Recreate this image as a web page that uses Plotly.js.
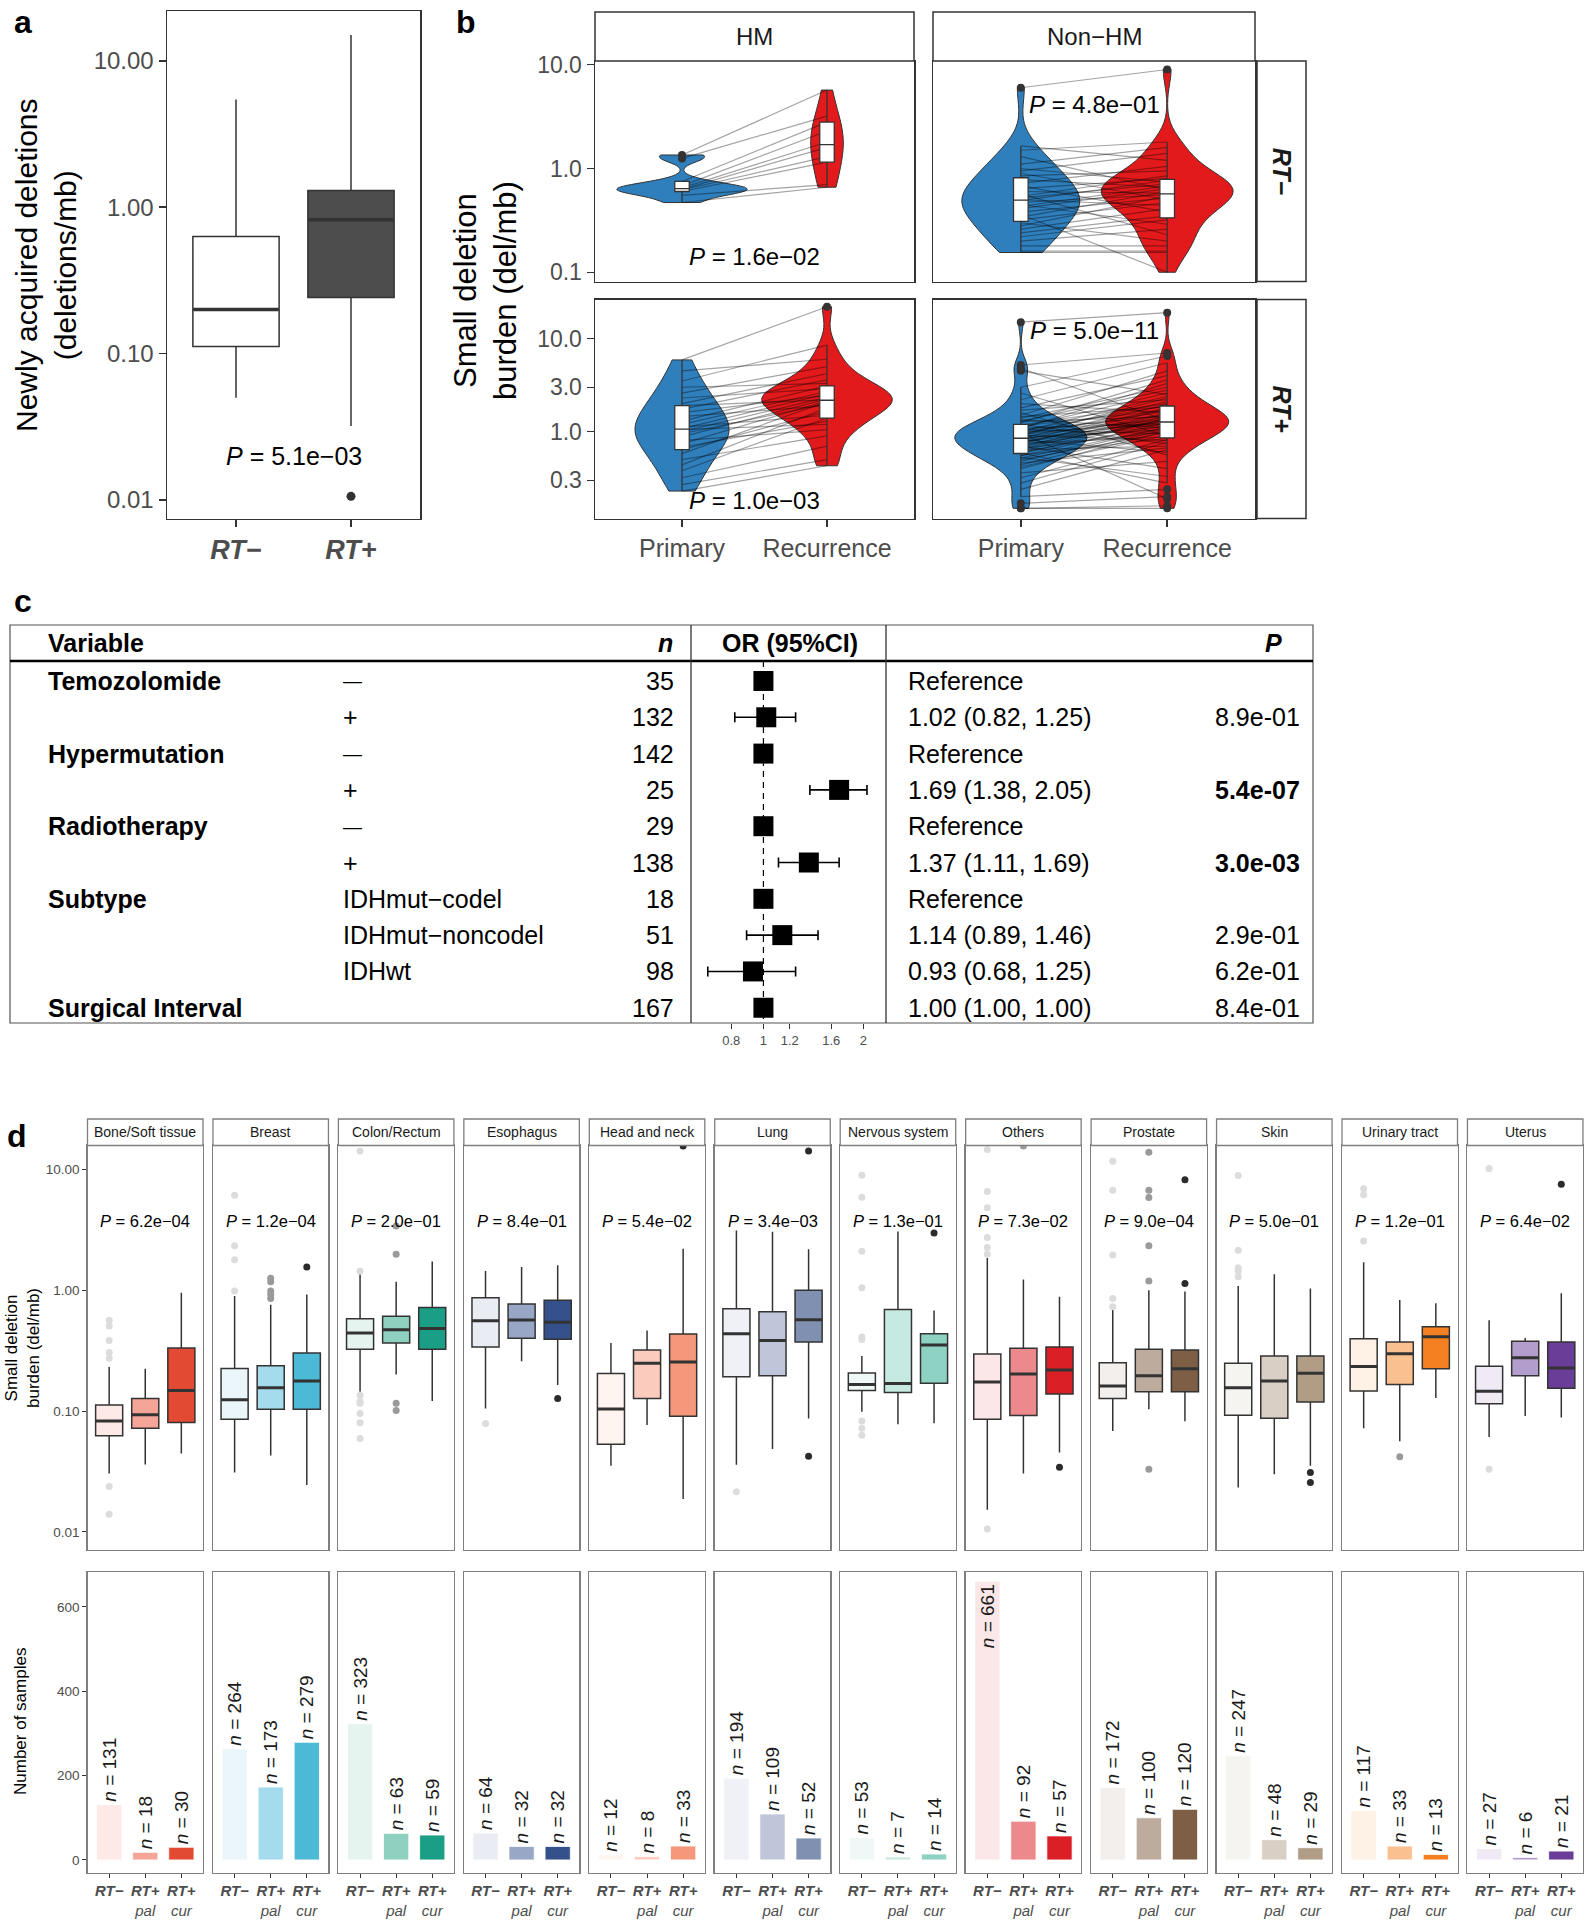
<!DOCTYPE html>
<html><head><meta charset="utf-8">
<script src="https://cdn.plot.ly/plotly-3.0.1.min.js"></script>
<style>body{margin:0;background:#fff}</style>
</head><body><div id="chart" style="width:1588px;height:1920px"></div>
<script>
// ================= DATA =================
// ---- Panel a: newly acquired deletions (box summary) ----
const aGroups = ['RT−', 'RT+'];
const aQ1 = [0.112, 0.242];
const aMedian = [0.20, 0.82];
const aQ3 = [0.63, 1.30];
const aLowerWhisker = [0.050, 0.032];
const aUpperWhisker = [5.45, 15.0];
const aOutliers = [[], [0.0106]];
const aPvalue = '5.1e−03';
const aTicks = [0.01, 0.1, 1, 10];

// ---- Panel b: paired small deletion burden (del/mb) ----
const bConditions = ['Primary', 'Recurrence'];
const bColumns = ['HM', 'Non−HM'];
const bRows = ['RT−', 'RT+'];
const hmNegPrimary    = [1.35, 1.25, 0.75, 0.68, 0.65, 0.63, 0.62, 0.60, 0.55, 0.47];
const hmNegRecurrence = [5.7, 3.2, 2.8, 2.3, 1.8, 1.6, 1.3, 1.15, 0.70, 0.66];
const nonhmNegPrimary = [6.0, 1.65, 1.5, 1.3, 1.1, 1.0, 0.95, 0.9, 0.85, 0.78, 0.72, 0.68, 0.64, 0.6, 0.57, 0.54, 0.52, 0.5, 0.49, 0.47, 0.45, 0.43, 0.41, 0.38, 0.36, 0.34, 0.32, 0.3, 0.28, 0.26, 0.24, 0.22, 0.2, 0.18, 0.16, 0.155];
const nonhmNegRecurrence = [9.0, 1.2, 1.8, 0.62, 1.6, 0.74, 1.4, 0.5, 0.95, 0.66, 1.05, 0.38, 0.8, 0.58, 0.23, 0.85, 0.71, 0.44, 0.77, 0.56, 0.29, 0.68, 0.64, 0.52, 0.1, 0.6, 0.47, 0.2, 0.54, 0.41, 0.35, 0.32, 0.26, 0.18, 0.16, 0.155];
const hmPosPrimary = [5.9, 4.5, 3.5, 3.0, 2.6, 2.3, 2.0, 1.9, 1.75, 1.6, 1.45, 1.3, 1.2, 1.12, 1.08, 1.05, 1.0, 0.95, 0.88, 0.8, 0.74, 0.68, 0.64, 0.58, 0.5, 0.44, 0.38, 0.32, 0.27, 0.23];
const hmPosRecurrence = [22, 6.0, 8.5, 3.3, 5.0, 2.9, 4.2, 2.2, 3.6, 2.45, 1.9, 3.1, 2.7, 1.5, 2.55, 1.2, 2.35, 2.0, 2.25, 1.05, 2.15, 1.3, 1.65, 2.1, 0.9, 1.8, 1.4, 0.7, 0.5, 0.43];
const nonhmPosPrimary = [15, 5.2, 4.8, 4.5, 3.0, 2.6, 2.2, 2.0, 1.8, 1.7, 1.6, 1.5, 1.45, 1.4, 1.35, 1.3, 1.28, 1.25, 1.2, 1.18, 1.15, 1.12, 1.1, 1.08, 1.05, 1.03, 1.02, 1.0, 0.98, 0.97, 0.96, 0.94, 0.93, 0.92, 0.9, 0.88, 0.86, 0.85, 0.84, 0.82, 0.8, 0.79, 0.78, 0.76, 0.75, 0.74, 0.72, 0.7, 0.69, 0.68, 0.66, 0.65, 0.64, 0.62, 0.6, 0.59, 0.58, 0.56, 0.55, 0.53, 0.52, 0.5, 0.48, 0.46, 0.44, 0.42, 0.4, 0.36, 0.32, 0.28, 0.24, 0.2, 0.17, 0.15, 0.15];
const nonhmPosRecurrence = [19, 7.0, 1.3, 2.5, 6.5, 0.9, 5.5, 1.6, 4.0, 2.2, 0.56, 4.5, 1.85, 3.0, 1.1, 2.8, 1.45, 3.6, 0.74, 2.0, 1.7, 2.6, 1.22, 3.3, 0.95, 1.9, 1.5, 2.4, 1.2, 0.19, 1.65, 2.1, 1.36, 0.8, 2.3, 1.42, 1.05, 1.95, 1.27, 0.6, 1.8, 1.33, 1.15, 1.58, 0.88, 1.75, 1.24, 0.4, 1.55, 1.32, 1.0, 1.48, 0.7, 1.4, 1.17, 0.28, 1.38, 0.85, 1.25, 0.33, 1.13, 0.98, 1.12, 0.67, 1.07, 0.92, 1.02, 0.48, 0.82, 0.77, 0.64, 0.24, 0.2, 0.16, 0.15];
const bPvalues = ['1.6e−02', '4.8e−01', '1.0e−03', '5.0e−11'];
const bTopTicks = [0.1, 1, 10];
const bTopTickLabels = ['0.1', '1.0', '10.0'];
const bBottomTicks = [0.3, 1, 3, 10];
const bBottomTickLabels = ['0.3', '1.0', '3.0', '10.0'];

// ---- Panel c: regression table ----
const cVariables = ['Temozolomide', '', 'Hypermutation', '', 'Radiotherapy', '', 'Subtype', '', '', 'Surgical Interval'];
const cLevels = ['—', '+', '—', '+', '—', '+', 'IDHmut−codel', 'IDHmut−noncodel', 'IDHwt', ''];
const cN = [35, 132, 142, 25, 29, 138, 18, 51, 98, 167];
const cOR = [1, 1.02, 1, 1.69, 1, 1.37, 1, 1.14, 0.93, 1.00];
const cLow = [null, 0.82, null, 1.38, null, 1.11, null, 0.89, 0.68, 1.00];
const cHigh = [null, 1.25, null, 2.05, null, 1.69, null, 1.46, 1.25, 1.00];
const cP = [null, 0.89, null, 5.4e-7, null, 3.0e-3, null, 0.29, 0.62, 0.84];
const cTicks = [0.8, 1, 1.2, 1.6, 2];

// ---- Panel d: pan-cancer ----
const dTissues = ['Bone/Soft tissue', 'Breast', 'Colon/Rectum', 'Esophagus', 'Head and neck', 'Lung', 'Nervous system', 'Others', 'Prostate', 'Skin', 'Urinary tract', 'Uterus'];
const dPvalues = ['6.2e−04', '1.2e−04', '2.0e−01', '8.4e−01', '5.4e−02', '3.4e−03', '1.3e−01', '7.3e−02', '9.0e−04', '5.0e−01', '1.2e−01', '6.4e−02'];
const dGroupLabels = ['<b><i>RT−</i></b>', '<b><i>RT+</i></b><br><i>pal</i>', '<b><i>RT+</i></b><br><i>cur</i>'];
const dNegQ1  = [0.0623, 0.0855, 0.324, 0.338, 0.0532, 0.192, 0.1475, 0.0855, 0.127, 0.0923, 0.1465, 0.115];
const dNegMed = [0.0828, 0.124, 0.442, 0.558, 0.104, 0.436, 0.166, 0.174, 0.161, 0.156, 0.233, 0.146];
const dNegQ3  = [0.112, 0.225, 0.58, 0.865, 0.204, 0.701, 0.206, 0.296, 0.251, 0.248, 0.396, 0.234];
const dNegLo  = [0.0304, 0.031, 0.144, 0.105, 0.0352, 0.0359, 0.0984, 0.0153, 0.0685, 0.0233, 0.072, 0.061];
const dNegHi  = [0.231, 0.892, 1.38, 1.44, 0.365, 3.11, 0.285, 1.84, 0.684, 1.08, 1.70, 0.562];
const dNegOut = [[0.562, 0.505, 0.382, 0.304, 0.273, 0.0238, 0.014], [6.09, 2.32, 1.78, 0.98], [14.1, 1.43, 0.135, 0.12, 0.116, 0.0952, 0.080, 0.0592], [0.0787], [], [0.0215], [8.9, 5.86, 2.09, 1.045, 0.409, 0.39, 0.0828, 0.072, 0.063], [14.5, 6.53, 4.79, 2.72, 2.25, 1.98, 0.0106], [11.6, 6.7, 1.95, 0.853, 0.728], [8.85, 2.13, 1.53, 1.44, 1.29], [6.87, 6.13, 2.54], [10.1, 0.033]];
const dPalQ1  = [0.072, 0.1035, 0.365, 0.399, 0.127, 0.196, 0.142, 0.0917, 0.144, 0.0871, 0.166, 0.196];
const dPalMed = [0.093, 0.156, 0.47, 0.565, 0.248, 0.382, 0.169, 0.202, 0.196, 0.177, 0.298, 0.276];
const dPalQ3  = [0.127, 0.237, 0.606, 0.766, 0.32, 0.662, 0.692, 0.33, 0.324, 0.285, 0.372, 0.377];
const dPalLo  = [0.0361, 0.0429, 0.2, 0.258, 0.0768, 0.0486, 0.0778, 0.0304, 0.1035, 0.03, 0.0563, 0.0911];
const dPalHi  = [0.224, 0.757, 1.17, 1.55, 0.464, 3.03, 3.05, 1.22, 0.994, 1.35, 0.827, 0.402];
const dPalOut = [[], [1.25, 1.17, 0.98, 0.92, 0.853], [3.38, 1.98, 0.116, 0.101], [], [], [], [], [15.5], [13.8, 6.7, 5.82, 2.32, 1.19, 0.033], [], [0.0418], []];
const dCurQ1  = [0.0802, 0.1035, 0.324, 0.392, 0.0905, 0.372, 0.17, 0.138, 0.144, 0.119, 0.224, 0.154];
const dCurMed = [0.148, 0.177, 0.48, 0.541, 0.254, 0.569, 0.352, 0.218, 0.224, 0.205, 0.412, 0.227];
const dCurQ3  = [0.332, 0.302, 0.719, 0.822, 0.433, 0.994, 0.436, 0.338, 0.32, 0.285, 0.498, 0.372];
const dCurLo  = [0.0445, 0.0245, 0.121, 0.164, 0.0187, 0.0866, 0.0792, 0.0454, 0.0823, 0.0352, 0.128, 0.0883];
const dCurHi  = [0.95, 0.92, 1.72, 1.6, 2.19, 2.17, 0.679, 0.881, 0.975, 1.03, 0.776, 0.939];
const dCurOut = [[], [1.55], [], [0.127], [15.5], [14.1, 0.0423], [2.96], [0.0343], [8.15, 1.135], [0.031, 0.0256], [], [7.5]];
const dCountNeg = [131, 264, 323, 64, 12, 194, 53, 661, 172, 247, 117, 27];
const dCountPal = [18, 173, 63, 32, 8, 109, 7, 92, 100, 48, 33, 6];
const dCountCur = [30, 279, 59, 32, 33, 52, 14, 57, 120, 29, 13, 21];
const dBoxTicks = [0.01, 0.1, 1, 10];
const dBarTicks = [0, 200, 400, 600];

// ================= STYLE =================
const dColors = [
  ['#fde9e6', '#f4a597', '#e34a33'], ['#eaf6f9', '#a5dced', '#4cb9d6'], ['#e6f4f0', '#8ed1c1', '#1b9e86'],
  ['#e9ecf2', '#98a7c5', '#35518b'], ['#fff4f0', '#fbcbbd', '#f4977b'], ['#eff1f6', '#c0c6da', '#8090b1'],
  ['#f0f8f7', '#c6e9e1', '#8dd2c3'], ['#fbe7e8', '#eb898d', '#da1f27'], ['#f2efec', '#bdab9e', '#7e5f46'],
  ['#f6f4f1', '#d9cfc4', '#b19c86'], ['#fef1e5', '#fbc090', '#f58021'], ['#efeaf4', '#b29dcd', '#6a3d98']
];
const dOutColors = ['#dcdcdc', '#9a9a9a', '#2b2b2b'];
const BLUE = '#2f7fbd', RED = '#e31a1c', DARK = '#333333', TICKGRAY = '#4d4d4d', FRAMEGRAY = '#7f7f7f';
const FONT = 'Liberation Sans, Arial, Helvetica, sans-serif';

// ================= BUILD =================
const W = 1588, H = 1920;
const fx = p => p / W, fy = p => 1 - p / H;
const layout = {
  width: W, height: H, margin: {l: 0, r: 0, t: 0, b: 0, pad: 0},
  paper_bgcolor: '#ffffff', plot_bgcolor: 'rgba(0,0,0,0)', showlegend: false, hovermode: false,
  font: {family: FONT, color: '#000'}, violinmode: 'overlay', violingap: 0.1, violingroupgap: 0,
  boxmode: 'overlay', barmode: 'overlay', shapes: [], annotations: []
};
const data = [];
let nAx = 0;
function newAxes(xo, yo) {
  nAx++;
  const s = nAx === 1 ? '' : String(nAx);
  layout['xaxis' + s] = Object.assign({anchor: 'y' + s, showgrid: false, zeroline: false, fixedrange: true}, xo);
  layout['yaxis' + s] = Object.assign({anchor: 'x' + s, showgrid: false, zeroline: false, fixedrange: true}, yo);
  return {x: 'x' + s, y: 'y' + s};
}
function ann(o) { layout.annotations.push(Object.assign({showarrow: false, xref: 'paper', yref: 'paper'}, o)); }
function rect(x0, y0, x1, y1, color, width, fill) {
  layout.shapes.push({type: 'rect', xref: 'paper', yref: 'paper', x0: fx(x0), x1: fx(x1), y0: fy(y0), y1: fy(y1),
    line: {color: color, width: width}, fillcolor: fill || 'rgba(0,0,0,0)', layer: 'above'});
}
function hline(x0, x1, y, color, width) {
  layout.shapes.push({type: 'line', xref: 'paper', yref: 'paper', x0: fx(x0), x1: fx(x1), y0: fy(y), y1: fy(y), line: {color: color, width: width}});
}
function vline(x, y0, y1, color, width) {
  layout.shapes.push({type: 'line', xref: 'paper', yref: 'paper', x0: fx(x), x1: fx(x), y0: fy(y0), y1: fy(y1), line: {color: color, width: width}});
}
const frame = (c, w) => ({showline: true, mirror: true, linecolor: c, linewidth: w});

// ---------- Panel labels ----------
[['a', 12, 2], ['b', 454, 2], ['c', 12, 581], ['d', 5, 1116]].forEach(l =>
  ann({text: '<b>' + l[0] + '</b>', x: fx(l[1]), y: fy(l[2]), xanchor: 'left', yanchor: 'top', font: {size: 32, color: '#000'}}));

// ---------- Panel a ----------
(function () {
  const A = newAxes(
    Object.assign({domain: [fx(167), fx(420)], type: 'linear', range: [-0.6, 1.6], tickvals: aGroups.map((g, i) => i),
      ticktext: aGroups.map(g => '<b><i>' + g + '</i></b>'), ticks: 'outside', ticklen: 7, tickwidth: 1.5, tickcolor: DARK,
      tickfont: {size: 27, color: TICKGRAY}}, frame(DARK, 1.5)),
    Object.assign({domain: [fy(518.5), fy(11)], type: 'log', range: [-2.126, 1.34], tickvals: aTicks,
      ticktext: aTicks.map(v => v.toFixed(2)), ticks: 'outside', ticklen: 7, tickwidth: 1.5, tickcolor: DARK,
      tickfont: {size: 24, color: TICKGRAY}}, frame(DARK, 1.5)));
  const fills = ['#ffffff', '#4d4d4d'];
  aGroups.forEach((g, i) => {
    data.push({type: 'box', xaxis: A.x, yaxis: A.y, x: [i], q1: [aQ1[i]], median: [aMedian[i]], q3: [aQ3[i]],
      lowerfence: [aLowerWhisker[i]], upperfence: [aUpperWhisker[i]], width: 0.75, fillcolor: fills[i],
      line: {color: DARK, width: 1.5}, whiskerwidth: 0, boxpoints: false, hoverinfo: 'skip'});
    if (aOutliers[i].length) data.push({type: 'scatter', mode: 'markers', xaxis: A.x, yaxis: A.y,
      x: aOutliers[i].map(() => i), y: aOutliers[i], marker: {color: DARK, size: 9}, hoverinfo: 'skip'});
  });
  // thick median bar (line-ew half length = 0.7 * size)
  data.push({type: 'scatter', mode: 'markers', xaxis: A.x, yaxis: A.y, x: aGroups.map((g, i) => i), y: aMedian,
    marker: {symbol: 'line-ew', size: 61, line: {width: 3.5, color: DARK}}, hoverinfo: 'skip'});
  layout.annotations.push({xref: A.x, yref: A.y, x: 0.5, y: -1.697, text: '<i>P</i> = ' + aPvalue, showarrow: false,
    font: {size: 25, color: '#000'}});
  ann({text: 'Newly acquired deletions<br>(deletions/mb)', x: fx(46), y: fy(265), textangle: -90,
    xanchor: 'center', yanchor: 'middle', font: {size: 30, color: '#000'}});
})();

// ---------- Panel b ----------
(function () {
  const groups = [[hmNegPrimary, hmNegRecurrence], [nonhmNegPrimary, nonhmNegRecurrence],
    [hmPosPrimary, hmPosRecurrence], [nonhmPosPrimary, nonhmPosRecurrence]];
  const colX = [[595, 914], [933, 1255]];
  const rowY = [[61, 281.5], [299.5, 518.5]];
  const yRange = [[-1.089, 1.036], [-0.933, 1.42]];
  const pY = [-0.847, 0.62, -0.742, 1.083];
  const ticks = [bTopTicks, bBottomTicks], tickLabels = [bTopTickLabels, bBottomTickLabels];
  for (let r = 0; r < 2; r++) for (let c = 0; c < 2; c++) {
    const idx = r * 2 + c;
    const xd = [fx(colX[c][0]), fx(colX[c][1])], yd = [fy(rowY[r][1]), fy(rowY[r][0])];
    const B = newAxes(
      Object.assign({domain: xd, type: 'linear', range: [-0.6, 1.6], tickvals: [0, 1], ticktext: bConditions,
        showticklabels: r === 1, ticks: r === 1 ? 'outside' : '', ticklen: 7, tickwidth: 1.5, tickcolor: DARK,
        tickfont: {size: 25, color: TICKGRAY}}, frame(DARK, 1.5)),
      Object.assign({domain: yd, type: 'linear', range: yRange[r], tickvals: ticks[r].map(Math.log10), ticktext: tickLabels[r],
        showticklabels: c === 0, ticks: c === 0 ? 'outside' : '', ticklen: 7, tickwidth: 1.5, tickcolor: DARK,
        tickfont: {size: 23, color: TICKGRAY}}, frame(DARK, 1.5)));
    const O = newAxes({overlaying: B.x, type: 'linear', range: [-0.6, 1.6], visible: false},
      {overlaying: B.y, type: 'linear', range: yRange[r], visible: false});
    const g = groups[idx];
    // width left automatic (violingap) so that the scale group gives equal-area violins per panel
    g.forEach((vals, k) => data.push({type: 'violin', xaxis: B.x, yaxis: B.y, x: vals.map(() => k), y: vals.map(Math.log10),
      fillcolor: k ? RED : BLUE, line: {color: DARK, width: 1}, points: false, spanmode: 'hard',
      scalemode: 'count', scalegroup: 'b' + idx, box: {visible: false}, meanline: {visible: false}, hoverinfo: 'skip'}));
    const lx = [], ly = [];
    g[0].forEach((p, j) => { lx.push(0, 1, null); ly.push(Math.log10(p), Math.log10(g[1][j]), null); });
    data.push({type: 'scatter', mode: 'lines', xaxis: B.x, yaxis: B.y, x: lx, y: ly,
      line: {color: 'rgba(0,0,0,0.36)', width: 1.2}, hoverinfo: 'skip'});
    g.forEach((vals, k) => data.push({type: 'box', xaxis: O.x, yaxis: O.y, x: vals.map(() => k), y: vals.map(Math.log10),
      width: 0.1, fillcolor: '#ffffff', line: {color: DARK, width: 1.3}, whiskerwidth: 0, boxpoints: 'outliers',
      jitter: 0, pointpos: 0, marker: {color: DARK, size: 8}, quartilemethod: 'linear', hoverinfo: 'skip'}));
    layout.annotations.push({xref: B.x, yref: B.y, x: 0.5, y: pY[idx], text: '<i>P</i> = ' + bPvalues[idx],
      showarrow: false, font: {size: 24, color: '#000'}});
  }
  colX.forEach((cx, c) => {
    rect(cx[0], 12, cx[1], 61, DARK, 1.5, '#ffffff');
    ann({text: bColumns[c], x: fx((cx[0] + cx[1]) / 2), y: fy(36.5), xanchor: 'center', yanchor: 'middle', font: {size: 24, color: '#1a1a1a'}});
  });
  rowY.forEach((ry, r) => {
    rect(1257, ry[0], 1306, ry[1], DARK, 1.5, '#ffffff');
    ann({text: '<b><i>' + bRows[r] + '</i></b>', x: fx(1281.5), y: fy((ry[0] + ry[1]) / 2), textangle: 90,
      xanchor: 'center', yanchor: 'middle', font: {size: 25, color: '#1a1a1a'}});
  });
  ann({text: 'Small deletion<br>burden (del/mb)', x: fx(486), y: fy(290), textangle: -90, xanchor: 'center', yanchor: 'middle',
    font: {size: 31, color: '#000'}});
})();

// ---------- Panel c ----------
(function () {
  const top = 625, head = 661, bottom = 1023, left = 10, right = 1313, v1 = 691, v2 = 886;
  const C = newAxes(
    {domain: [fx(v1), fx(v2)], type: 'log', range: [-0.218, 0.369], tickvals: cTicks, ticktext: cTicks.map(String),
      ticks: 'outside', ticklen: 5, tickwidth: 1, tickcolor: DARK, tickfont: {size: 13, color: TICKGRAY}, showline: false},
    {domain: [fy(bottom), fy(head)], type: 'linear', range: [9.42, -0.55], visible: false});
  const rows = cOR.map((v, i) => i);
  data.push({type: 'scatter', mode: 'lines', xaxis: C.x, yaxis: C.y, x: [1, 1], y: [-0.55, 9.42],
    line: {color: '#000', width: 1.2, dash: '6px,5px'}, hoverinfo: 'skip'});
  data.push({type: 'scatter', mode: 'markers', xaxis: C.x, yaxis: C.y, x: cOR, y: rows,
    marker: {symbol: 'square', size: 20, color: '#000'},
    error_x: {type: 'data', symmetric: false, array: cOR.map((v, i) => cHigh[i] == null ? 0 : cHigh[i] - v),
      arrayminus: cOR.map((v, i) => cLow[i] == null ? 0 : v - cLow[i]), color: '#000', thickness: 1.6, width: 5},
    hoverinfo: 'skip'});
  // table frame
  rect(left, top, right, bottom, '#555555', 1.2);
  hline(left, right, head, '#000', 2.6);
  vline(v1, top, bottom, '#333', 1.3);
  vline(v2, top, bottom, '#333', 1.3);
  const hy = fy((top + head) / 2);
  const FS = 25;
  ann({text: '<b>Variable</b>', x: fx(46), y: hy, xanchor: 'left', yanchor: 'middle', font: {size: FS}});
  ann({text: '<b><i>n</i></b>', x: fx(675), y: hy, xanchor: 'right', yanchor: 'middle', font: {size: FS}});
  ann({text: '<b>OR (95%CI)</b>', x: fx(790), y: hy, xanchor: 'center', yanchor: 'middle', font: {size: FS}});
  ann({text: '<b><i>P</i></b>', x: fx(1284), y: hy, xanchor: 'right', yanchor: 'middle', font: {size: FS}});
  const fmtP = p => p.toExponential(1).replace(/e([+-])(\d)$/, 'e$10$2');
  rows.forEach(i => {
    const base = {xref: 'paper', yref: C.y, y: i, yanchor: 'middle', showarrow: false, font: {size: FS, color: '#000'}};
    if (cVariables[i]) layout.annotations.push(Object.assign({}, base, {text: '<b>' + cVariables[i] + '</b>', x: fx(46), xanchor: 'left'}));
    if (cLevels[i]) {
      const t = cLevels[i] === '—' ? '<span style="font-size:19px">—</span>' : cLevels[i];
      layout.annotations.push(Object.assign({}, base, {text: t, x: fx(341), xanchor: 'left'}));
    }
    layout.annotations.push(Object.assign({}, base, {text: String(cN[i]), x: fx(676), xanchor: 'right'}));
    const orTxt = cLow[i] == null ? 'Reference' : cOR[i].toFixed(2) + ' (' + cLow[i].toFixed(2) + ', ' + cHigh[i].toFixed(2) + ')';
    layout.annotations.push(Object.assign({}, base, {text: orTxt, x: fx(906), xanchor: 'left'}));
    if (cP[i] != null) {
      const t = fmtP(cP[i]);
      layout.annotations.push(Object.assign({}, base, {text: cP[i] < 0.05 ? '<b>' + t + '</b>' : t, x: fx(1302), xanchor: 'right'}));
    }
  });
})();

// ---------- Panel d ----------
(function () {
  const left0 = 87.5, step = 125.45, pw = 115.5;
  const stripTop = 1119, boxTop = 1145.5, boxBottom = 1550, barTop = 1572, barBottom = 1873;
  const stats = [
    [dNegQ1, dNegMed, dNegQ3, dNegLo, dNegHi, dNegOut],
    [dPalQ1, dPalMed, dPalQ3, dPalLo, dPalHi, dPalOut],
    [dCurQ1, dCurMed, dCurQ3, dCurLo, dCurHi, dCurOut]
  ];
  const counts = [dCountNeg, dCountPal, dCountCur];
  dTissues.forEach((tissue, i) => {
    const L = left0 + step * i, R = L + pw;
    const xd = [fx(L), fx(R)];
    const T = newAxes(
      Object.assign({domain: xd, type: 'linear', range: [0.4, 3.6], showticklabels: false, ticks: ''}, frame(FRAMEGRAY, 1.3)),
      Object.assign({domain: [fy(boxBottom), fy(boxTop)], type: 'log', range: [-2.149, 1.195], tickvals: dBoxTicks,
        ticktext: dBoxTicks.map(v => v.toFixed(2)), showticklabels: i === 0, ticks: i === 0 ? 'outside' : '',
        ticklen: 4, tickwidth: 1, tickcolor: DARK, tickfont: {size: 13.5, color: TICKGRAY}}, frame(FRAMEGRAY, 1.3)));
    stats.forEach((s, g) => {
      data.push({type: 'box', xaxis: T.x, yaxis: T.y, x: [g + 1], q1: [s[0][i]], median: [s[1][i]], q3: [s[2][i]],
        lowerfence: [s[3][i]], upperfence: [s[4][i]], width: 0.75, fillcolor: dColors[i][g],
        line: {color: DARK, width: 1.5}, whiskerwidth: 0, boxpoints: false, hoverinfo: 'skip'});
      if (s[5][i].length) data.push({type: 'scatter', mode: 'markers', xaxis: T.x, yaxis: T.y,
        x: s[5][i].map(() => g + 1), y: s[5][i], marker: {color: dOutColors[g], size: 7}, cliponaxis: true, hoverinfo: 'skip'});
    });
    data.push({type: 'scatter', mode: 'markers', xaxis: T.x, yaxis: T.y, x: [1, 2, 3], y: stats.map(s => s[1][i]),
      marker: {symbol: 'line-ew', size: 19.3, line: {width: 3, color: DARK}}, hoverinfo: 'skip'});
    layout.annotations.push({xref: T.x, yref: T.y, x: 2, y: 0.575, text: '<i>P</i> = ' + dPvalues[i], showarrow: false,
      font: {size: 16.5, color: '#000'}});
    rect(L, stripTop, R, boxTop, FRAMEGRAY, 1.3, '#ffffff');
    ann({text: tissue, x: fx((L + R) / 2), y: fy((stripTop + boxTop) / 2), xanchor: 'center', yanchor: 'middle',
      font: {size: 14, color: '#1a1a1a'}});

    const Bx = newAxes(
      Object.assign({domain: xd, type: 'linear', range: [0.4, 3.6], tickvals: [1, 2, 3], ticktext: dGroupLabels,
        ticks: 'outside', ticklen: 4, tickwidth: 1, tickcolor: DARK, tickfont: {size: 15, color: TICKGRAY}}, frame(FRAMEGRAY, 1.3)),
      Object.assign({domain: [fy(barBottom), fy(barTop)], type: 'linear', range: [-31, 683], tickvals: dBarTicks,
        ticktext: dBarTicks.map(String), showticklabels: i === 0, ticks: i === 0 ? 'outside' : '', ticklen: 4, tickwidth: 1,
        tickcolor: DARK, tickfont: {size: 13.5, color: TICKGRAY}}, frame(FRAMEGRAY, 1.3)));
    const ys = counts.map(cn => cn[i]);
    data.push({type: 'bar', xaxis: Bx.x, yaxis: Bx.y, x: [1, 2, 3], y: ys, width: 0.7,
      marker: {color: dColors[i], line: {color: 'rgba(255,255,255,0.8)', width: 1}},
      texttemplate: '<i>n</i> = %{y}', textangle: -90,
      textposition: ys.map(v => v > 600 ? 'inside' : 'outside'), insidetextanchor: 'end', constraintext: 'none',
      textfont: {size: 19, color: '#1a1a1a'}, insidetextfont: {size: 19, color: '#1a1a1a'}, outsidetextfont: {size: 19, color: '#1a1a1a'},
      cliponaxis: false, hoverinfo: 'skip'});
  });
  ann({text: 'Small deletion<br>burden (del/mb)', x: fx(22), y: fy(1348), textangle: -90, xanchor: 'center', yanchor: 'middle',
    font: {size: 17, color: '#000'}});
  ann({text: 'Number of samples', x: fx(20), y: fy(1722), textangle: -90, xanchor: 'center', yanchor: 'middle',
    font: {size: 17, color: '#000'}});
})();

Plotly.newPlot('chart', data, layout, {staticPlot: true, displayModeBar: false});
</script>
</body></html>
